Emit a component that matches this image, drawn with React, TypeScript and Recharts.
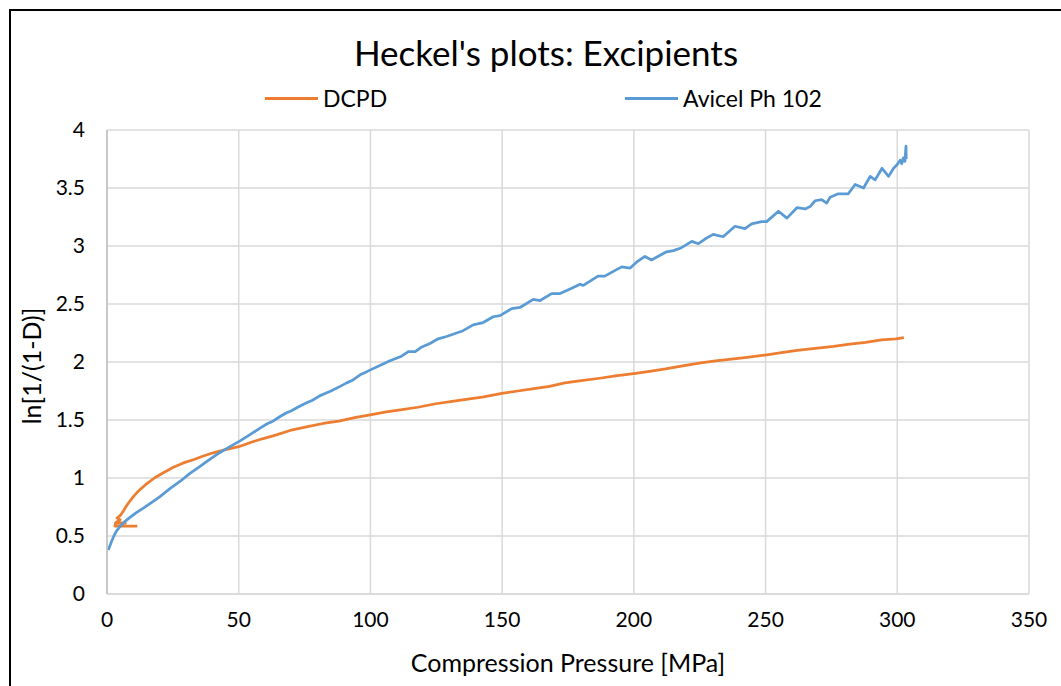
import React from "react";
import { LineChart, Line, XAxis, YAxis, CartesianGrid } from "recharts";

// Heckel analysis: ln[1/(1-D)] against compression pressure (MPa)
const dcpdPressure = [
  11.5, 3, 3.2, 7, 3.5, 5, 3.8, 5.2, 6.2, 7, 8, 9, 10, 11.2, 12.5, 13.8, 15, 18, 21.4, 25, 29, 33,
  36.6, 40, 44.2, 50, 55, 59.3, 64, 69.5, 75.7, 82, 88, 94, 99.9, 106, 112, 118, 124.8, 131, 137, 143,
  149.9, 156, 162, 168, 173.8, 180, 187, 193, 199.9, 206, 212, 218, 224.8, 231, 237, 243, 249.9, 256,
  262, 268, 275.8, 282, 288, 294, 299.4, 302.5,
];
const dcpdLn = [
  0.585, 0.585, 0.61, 0.61, 0.62, 0.64, 0.655, 0.68, 0.715, 0.745, 0.78, 0.81, 0.84, 0.87, 0.9, 0.925,
  0.95, 1.0, 1.045, 1.09, 1.13, 1.16, 1.19, 1.215, 1.24, 1.27, 1.31, 1.34, 1.37, 1.41, 1.44, 1.47,
  1.49, 1.52, 1.545, 1.57, 1.59, 1.61, 1.64, 1.66, 1.68, 1.7, 1.73, 1.75, 1.77, 1.79, 1.82, 1.84,
  1.86, 1.88, 1.9, 1.92, 1.94, 1.965, 1.99, 2.01, 2.025, 2.04, 2.06, 2.08, 2.1, 2.115, 2.135, 2.155,
  2.17, 2.19, 2.2, 2.21,
];

const avicelPressure = [
  0.5, 1.5, 2.4, 3.5, 4.9, 6.5, 8.7, 11, 13.8, 17, 20.1, 24, 27.7, 31.5, 35.3, 39, 42.9, 46.7, 50.5,
  54, 58.1, 61, 63, 65.7, 68, 70, 73.3, 76, 78, 80.9, 83, 85, 88.5, 91, 93, 96.1, 98, 99.8, 103.6,
  107.4, 111.8, 114.4, 117, 119.5, 122.6, 125.7, 128.9, 132.7, 135.2, 139, 142.8, 146.6, 149.2, 153.6,
  156.8, 161.8, 164.4, 168.8, 172, 175.8, 179.6, 180.8, 186.4, 189, 192.9, 195.4, 198.6, 201, 204.2,
  206.7, 212.4, 215, 217.6, 222, 224.5, 227, 230.1, 233.9, 238.4, 242.2, 244.7, 248.5, 250.4, 254.9,
  258.1, 261.9, 265, 266.9, 268.8, 271.3, 273.2, 274.5, 277.6, 281.4, 284, 287.2, 289.7, 291.6, 294.2,
  296.7, 298.6, 299.9, 301.1, 301.7, 302.3, 302.9, 303.3, 303.4,
];
const avicelLn = [
  0.38, 0.44, 0.49, 0.54, 0.58, 0.62, 0.66, 0.7, 0.74, 0.79, 0.84, 0.91, 0.97, 1.04, 1.1, 1.16, 1.22,
  1.27, 1.32, 1.37, 1.43, 1.47, 1.49, 1.53, 1.56, 1.58, 1.62, 1.65, 1.67, 1.71, 1.73, 1.75, 1.79,
  1.82, 1.84, 1.89, 1.91, 1.93, 1.97, 2.01, 2.05, 2.09, 2.09, 2.13, 2.16, 2.2, 2.22, 2.25, 2.27, 2.32,
  2.34, 2.39, 2.4, 2.46, 2.47, 2.54, 2.53, 2.59, 2.59, 2.63, 2.67, 2.66, 2.74, 2.74, 2.79, 2.82, 2.81,
  2.86, 2.91, 2.88, 2.95, 2.96, 2.98, 3.04, 3.02, 3.06, 3.1, 3.08, 3.17, 3.15, 3.19, 3.21, 3.21, 3.3,
  3.24, 3.33, 3.32, 3.34, 3.39, 3.4, 3.37, 3.42, 3.45, 3.45, 3.53, 3.5, 3.6, 3.57, 3.67, 3.6, 3.67,
  3.7, 3.74, 3.71, 3.76, 3.73, 3.86, 3.75,
];

const xTicks = [0, 50, 100, 150, 200, 250, 300, 350];
const yTicks = [0, 0.5, 1, 1.5, 2, 2.5, 3, 3.5, 4];

const seriesNames = ["DCPD", "Avicel Ph 102"];
const seriesColors = ["#ED7D31", "#5B9BD5"];

const toPoints = (xs: number[], ys: number[]) => xs.map((x, i) => ({ x, y: ys[i] }));
const dcpdData = toPoints(dcpdPressure, dcpdLn);
const avicelData = toPoints(avicelPressure, avicelLn);

const FONT = "Lato, 'Noto Sans', sans-serif";

export default function App() {
  return (
    <div
      style={{
        position: "absolute",
        left: 0,
        top: 0,
        width: 1061,
        height: 686,
        background: "#fff",
        overflow: "hidden",
        fontFamily: FONT,
        color: "#000",
      }}
    >
      <div
        style={{
          position: "absolute",
          left: 9,
          top: 9,
          width: 1200,
          height: 900,
          border: "2px solid #000",
        }}
      />
      <div
        style={{
          position: "absolute",
          left: 0,
          top: 30,
          width: 1092,
          textAlign: "center",
          fontSize: 35,
          lineHeight: "44px",
          whiteSpace: "nowrap",
        }}
      >
        Heckel's plots: Excipients
      </div>
      {/* legend */}
      {[0, 1].map((i) => (
        <div
          key={i}
          style={{
            position: "absolute",
            left: i === 0 ? 265 : 625,
            top: 84,
            display: "flex",
            alignItems: "center",
            fontSize: 23,
            lineHeight: "28px",
            whiteSpace: "nowrap",
          }}
        >
          <span
            style={{
              display: "inline-block",
              width: 53,
              height: 3,
              background: seriesColors[i],
              marginRight: 5,
            }}
          />
          {seriesNames[i]}
        </div>
      ))}
      {/* axis titles */}
      <div
        style={{
          position: "absolute",
          left: 107,
          width: 922,
          top: 646,
          textAlign: "center",
          fontSize: 25,
          lineHeight: "32px",
          whiteSpace: "nowrap",
        }}
      >
        Compression Pressure [MPa]
      </div>
      <div
        style={{
          position: "absolute",
          left: 31 - 100,
          top: 366 - 16,
          width: 200,
          textAlign: "center",
          fontSize: 25,
          lineHeight: "32px",
          whiteSpace: "nowrap",
          transform: "rotate(-90deg)",
        }}
      >
        ln[1/(1-D)]
      </div>
      <div style={{ position: "absolute", left: 0, top: 0 }}>
        <LineChart
          width={1061}
          height={686}
          margin={{ top: 130, right: 32, bottom: 62, left: 47 }}
        >
          <CartesianGrid stroke="#d9d9d9" strokeWidth={1.5} />
          <XAxis
            type="number"
            dataKey="x"
            domain={[0, 350]}
            ticks={xTicks}
            allowDataOverflow
            axisLine={{ stroke: "#d9d9d9", strokeWidth: 1.5 }}
            tickLine={false}
            tickSize={0}
            tickMargin={18}
            tick={{ fill: "#000", fontSize: 21, fontFamily: FONT }}
          />
          <YAxis
            type="number"
            dataKey="y"
            domain={[0, 4]}
            ticks={yTicks}
            width={60}
            axisLine={{ stroke: "#bfbfbf", strokeWidth: 1.5 }}
            tickLine={false}
            tickSize={0}
            tickMargin={22}
            tick={{ fill: "#000", fontSize: 21, fontFamily: FONT }}
          />
          <Line
            data={dcpdData}
            dataKey="y"
            name={seriesNames[0]}
            stroke={seriesColors[0]}
            strokeWidth={2.75}
            strokeLinejoin="round"
            dot={false}
            type="linear"
            isAnimationActive={false}
          />
          <Line
            data={avicelData}
            dataKey="y"
            name={seriesNames[1]}
            stroke={seriesColors[1]}
            strokeWidth={2.75}
            strokeLinejoin="round"
            dot={false}
            type="linear"
            isAnimationActive={false}
          />
        </LineChart>
      </div>
    </div>
  );
}
